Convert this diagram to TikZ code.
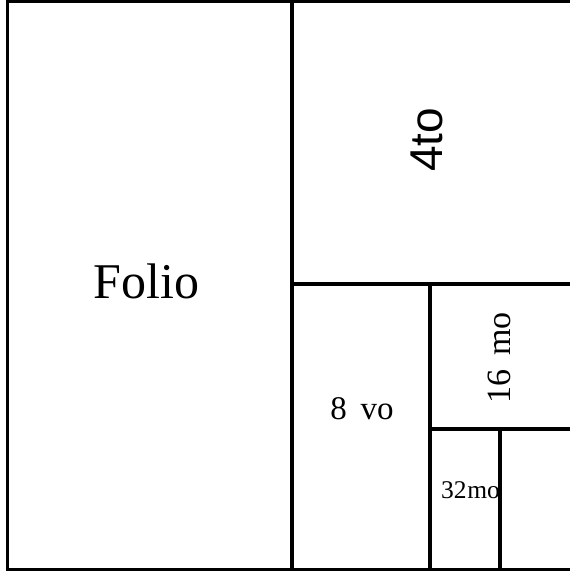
\documentclass[tikz,border=0pt]{standalone}
\usepackage{fontspec}
\setmainfont{Liberation Serif}
\newfontfamily\sansfam{Liberation Sans}
\begin{document}
\begin{tikzpicture}[x=1pt,y=-1pt,
  rule/.style={line width=3.5pt,black},
  label/.style={inner sep=0pt,anchor=base}]
\useasboundingbox (0,0) rectangle (570,573);
\clip (0,0) rectangle (570,573);
% labels
\node[label,font=\fontsize{50}{50}\selectfont] (folio) at (146.5,298) {Folio};
\node[label,rotate=90,font=\sansfam\fontsize{46}{46}\selectfont] (quarto) at (442,140) {4to};
\node[label,font=\fontsize{33}{33}\selectfont] (octavo) at (362,419) {8\hspace{0.42em}vo};
\node[label,rotate=90,font=\fontsize{34}{34}\selectfont] (sixteen) at (510,357.5) {16\hspace{0.4em}mo};
\node[label,font=\fontsize{25.5}{25.5}\selectfont] (thirtytwo) at (470.5,498.5) {32\hspace{0.03em}mo};
% folds
\draw[rule] (7.5,1.5) rectangle (577,569.5);
\draw[rule] (292,1.5) -- (292,569.5);
\draw[rule] (292,284) -- (577,284);
\draw[rule] (430,284) -- (430,569.5);
\draw[rule] (430,429) -- (577,429);
\draw[rule] (500,429) -- (500,569.5);
\end{tikzpicture}
\end{document}
